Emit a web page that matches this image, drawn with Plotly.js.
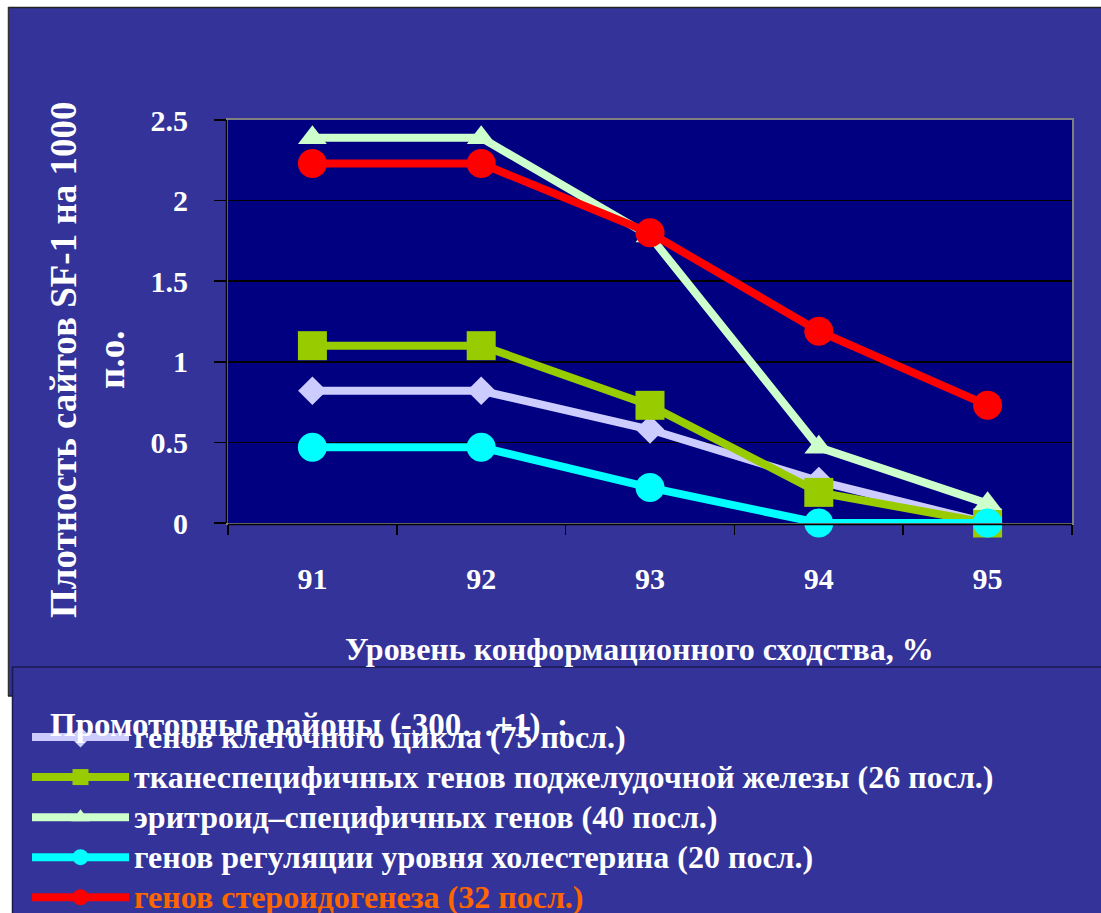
<!DOCTYPE html>
<html>
<head>
<meta charset="utf-8">
<script src="https://cdn.plot.ly/plotly-3.0.1.min.js"></script>
<style>html,body{margin:0;padding:0;background:#fff;}#chart{width:1101px;height:913px;}</style>
</head>
<body>
<div id="chart"></div>
<script>
// ---- data ----
const categories = ['91', '92', '93', '94', '95'];
const cellCycle = [0.82, 0.82, 0.58, 0.26, 0];
const pancreas = [1.10, 1.10, 0.73, 0.19, 0];
const erythroid = [2.39, 2.39, 1.78, 0.47, 0.12];
const cholesterol = [0.47, 0.47, 0.22, 0, 0];
const steroid = [2.23, 2.23, 1.80, 1.19, 0.73];
const seriesNames = [
  'генов клеточного цикла (75 посл.)',
  'тканеспецифичных генов поджелудочной железы (26 посл.)',
  'эритроид–специфичных генов (40 посл.)',
  'генов регуляции уровня холестерина (20 посл.)',
  'генов стероидогенеза (32 посл.)'
];
const legendTitle = 'Промоторные районы (-300…+1)  :';
const yTitle = 'Плотность сайтов SF-1 на 1000<br>п.о.';
const xTitle = 'Уровень конформационного сходства, %';

// ---- layout geometry (pixels) ----
const W = 1101, H = 913;
const PL = 228, PR = 1072, PT = 120, PB = 523;
const px2x = p => (p - PL) / (PR - PL);
const px2y = p => (PB - p) / (PB - PT);
const FONT = 'Liberation Serif, Times New Roman, serif';

const styles = [
  {color: '#CCCCFF', symbol: 'diamond', size: 22},
  {color: '#99CC00', symbol: 'square', size: 29},
  {color: '#CCFFCC', symbol: 'triangle-up', size: 25},
  {color: '#00FFFF', symbol: 'circle', size: 29},
  {color: '#FF0000', symbol: 'circle', size: 29}
];
const values = [cellCycle, pancreas, erythroid, cholesterol, steroid];

const traces = values.map((v, i) => ({
  type: 'scatter',
  mode: 'lines+markers',
  x: categories,
  y: v,
  name: '<span style="font-size:32px' + (i === 4 ? ';fill:#FF6600' : '') + '">' + seriesNames[i] + '</span>',
  line: {color: styles[i].color, width: 8},
  marker: {color: styles[i].color, symbol: styles[i].symbol, size: styles[i].size, line: {width: 0}},
  cliponaxis: false
}));

const shapes = [
  // white slide margins
  {type: 'rect', xref: 'paper', yref: 'paper', x0: px2x(-5), x1: px2x(W + 5), y0: px2y(-5), y1: px2y(7), fillcolor: '#FFFFFF', line: {width: 0}, layer: 'above'},
  {type: 'rect', xref: 'paper', yref: 'paper', x0: px2x(-5), x1: px2x(8), y0: px2y(-5), y1: px2y(H + 5), fillcolor: '#FFFFFF', line: {width: 0}, layer: 'above'},
  {type: 'rect', xref: 'paper', yref: 'paper', x0: px2x(-5), x1: px2x(12), y0: px2y(696), y1: px2y(H + 5), fillcolor: '#FFFFFF', line: {width: 0}, layer: 'above'},
  // chart frame border
  {type: 'line', xref: 'paper', yref: 'paper', x0: px2x(8), x1: px2x(W + 5), y0: px2y(7.5), y1: px2y(7.5), line: {color: '#222222', width: 1.5}, layer: 'above'},
  {type: 'line', xref: 'paper', yref: 'paper', x0: px2x(8.5), x1: px2x(8.5), y0: px2y(7), y1: px2y(696), line: {color: '#333333', width: 1.5}, layer: 'above'},
  {type: 'line', xref: 'paper', yref: 'paper', x0: px2x(8), x1: px2x(13), y0: px2y(696), y1: px2y(696), line: {color: '#222222', width: 1.5}, layer: 'above'},
  // black axis line just outside the plot frame (left and bottom)
  {type: 'line', xref: 'paper', yref: 'paper', x0: px2x(226.5), x1: px2x(226.5), y0: 0, y1: 1, line: {color: '#000000', width: 1.5}, layer: 'above'},
  {type: 'line', xref: 'paper', yref: 'paper', x0: 0, x1: 1, y0: px2y(524.5), y1: px2y(524.5), line: {color: '#000000', width: 1.5}, layer: 'above'},
  // legend box
  {type: 'rect', xref: 'paper', yref: 'paper', x0: px2x(12.5), x1: px2x(W + 10), y0: px2y(667), y1: px2y(H + 10), fillcolor: '#333399', line: {color: '#1A1A50', width: 1.5}, layer: 'above'}
];

const annotations = [
  {xref: 'paper', yref: 'paper', x: px2x(87), y: px2y(360), text: yTitle, textangle: -90, showarrow: false,
   xanchor: 'center', yanchor: 'middle', font: {family: FONT, size: 37, color: '#FFFFFF', weight: 700}},
  {xref: 'paper', yref: 'paper', x: px2x(639), y: px2y(649), text: xTitle, showarrow: false,
   xanchor: 'center', yanchor: 'middle', font: {family: FONT, size: 32, color: '#FFFFFF', weight: 700}},
  {xref: 'paper', yref: 'paper', x: px2x(48), y: px2y(725), text: legendTitle, showarrow: false,
   xanchor: 'left', yanchor: 'middle', font: {family: FONT, size: 33, color: '#FFFFFF', weight: 700}}
];

const layout = {
  width: W, height: H,
  margin: {l: PL, r: W - PR, t: PT, b: H - PB, pad: 0, autoexpand: false},
  paper_bgcolor: '#333399',
  plot_bgcolor: '#000080',
  showlegend: true,
  legend: {
    x: px2x(27), y: px2y(712), xanchor: 'left', yanchor: 'top',
    bgcolor: 'rgba(0,0,0,0)', borderwidth: 0,
    font: {family: FONT, size: 28.5, color: '#FFFFFF', weight: 700},
    itemwidth: 97, traceorder: 'normal', itemclick: false
  },
  xaxis: {
    type: 'category', categoryorder: 'array', categoryarray: categories,
    range: [-0.5, 4.5], tickson: 'boundaries', ticks: 'outside', ticklen: 10, tickcolor: '#000000', tickwidth: 1.5,
    showgrid: false, zeroline: false, showline: true, linecolor: '#808080', linewidth: 2, mirror: true,
    tickfont: {family: FONT, size: 30, color: '#FFFFFF', weight: 700}, ticklabelstandoff: 28, fixedrange: true
  },
  yaxis: {
    range: [0, 2.5], dtick: 0.5, tick0: 0, ticks: 'outside', ticklen: 12, tickcolor: '#000000', tickwidth: 1.5,
    showgrid: true, gridcolor: '#000000', gridwidth: 1.5, zeroline: false,
    showline: true, linecolor: '#808080', linewidth: 2, mirror: true,
    tickfont: {family: FONT, size: 30, color: '#FFFFFF', weight: 700}, ticklabelstandoff: 20, fixedrange: true
  },
  shapes: shapes,
  annotations: annotations
};

Plotly.newPlot('chart', traces, layout, {displayModeBar: false, staticPlot: true});
</script>
</body>
</html>
